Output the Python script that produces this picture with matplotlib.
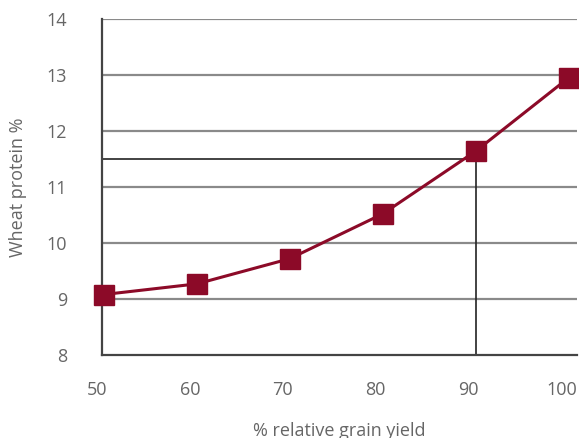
import matplotlib
matplotlib.use("Agg")
import matplotlib.pyplot as plt
import matplotlib.transforms as mtransforms

yield_pct = [50, 60, 70, 80, 90, 100]
protein = [9.08, 9.27, 9.72, 10.52, 11.64, 12.95]
x_ticks = [50, 60, 70, 80, 90, 100]
y_ticks = [8, 9, 10, 11, 12, 13, 14]
ref_x = 90
ref_y = 11.5

plt.rcParams['font.family'] = ['Open Sans', 'DejaVu Sans']

fig = plt.figure(figsize=(5.79, 4.38), dpi=100)
ax = fig.add_axes([102/579, 1 - 355/438, (577 - 102)/579, (355 - 19)/438])

ax.set_xlim(49.8, 100.9)
ax.set_ylim(8, 14)

for y in y_ticks[1:]:
    ax.axhline(y, color='#8a8a8a', lw=1.6, zorder=1)

ax.plot([ax.get_xlim()[0], ref_x], [ref_y, ref_y], color='#222222', lw=1.2, zorder=2)
ax.plot([ref_x, ref_x], [8, ref_y], color='#222222', lw=1.2, zorder=2)

ax.plot(yield_pct, protein, color='#8c0a28', lw=2.2, marker='s', markersize=15,
        markerfacecolor='#8c0a28', markeredgecolor='#8c0a28', zorder=3, clip_on=False)

for s in ['top', 'right']:
    ax.spines[s].set_visible(False)
for s in ['left', 'bottom']:
    ax.spines[s].set_color('#444444')
    ax.spines[s].set_linewidth(1.6)

ax.set_xticks(x_ticks)
ax.set_yticks(y_ticks)
ax.tick_params(axis='both', length=0, labelsize=13, colors='#666666')
ax.tick_params(axis='x', pad=19)
ax.tick_params(axis='y', pad=25)

offset = mtransforms.ScaledTranslation(-7/100, 0, fig.dpi_scale_trans)
for lab in ax.get_xticklabels():
    lab.set_transform(lab.get_transform() + offset)

ax.set_ylabel('Wheat protein %', fontsize=13, color='#666666', labelpad=14)
ax.set_xlabel('% relative grain yield', fontsize=13, color='#666666', labelpad=16)

fig.savefig('out.png', dpi=100)
